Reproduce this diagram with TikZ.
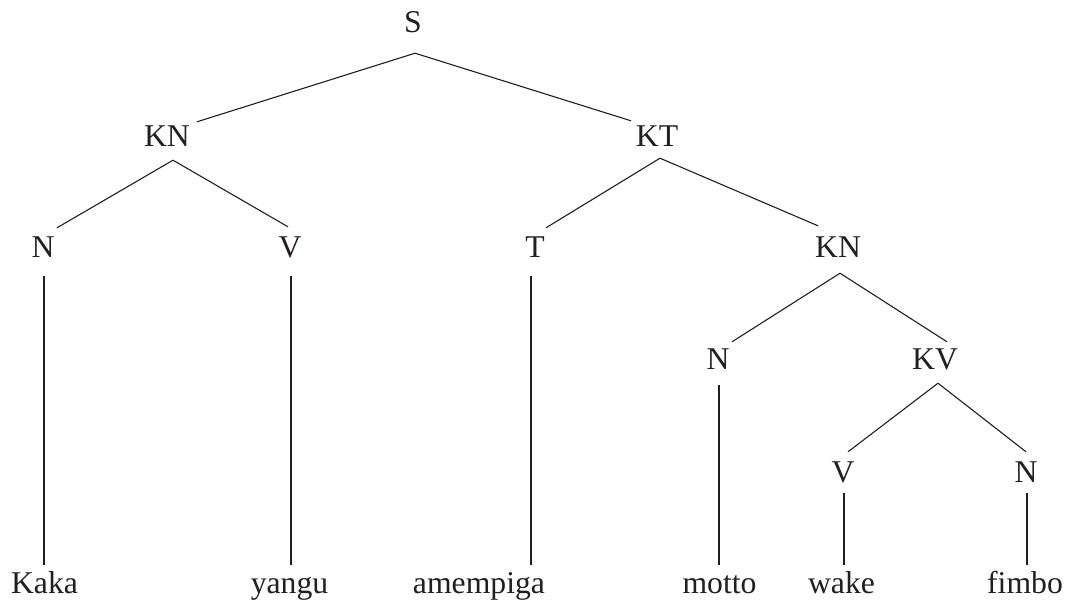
\documentclass[tikz,border=0pt]{standalone}
\usepackage{fontspec}
\setmainfont{Liberation Serif}
\definecolor{ink}{RGB}{35,31,32}
\tikzset{
  lab/.style={anchor=base, inner sep=0pt, text height=22pt, text depth=0pt,
    font=\fontsize{31.7}{38}\selectfont, text=ink},
  edge/.style={draw=ink, line width=1.1pt}
}
\begin{document}
\begin{tikzpicture}[x=1pt,y=-1pt]
\useasboundingbox[fill=white] (0,0) rectangle (1070,602);
% internal nodes
\node[lab] (S)   at (413,33)  {S};
\node[lab] (KN)  at (167,146) {KN};
\node[lab] (KT)  at (657,146) {KT};
\node[lab] (N1)  at (43,257)  {N};
\node[lab] (V1)  at (290,257) {V};
\node[lab] (T)   at (535,257) {T};
\node[lab] (KN2) at (838,257) {KN};
\node[lab] (N3)  at (718,369) {N};
\node[lab] (KV)  at (935,369) {KV};
\node[lab] (V4)  at (843,482) {V};
\node[lab] (N4)  at (1026,482) {N};
% leaves
\node[lab] (kaka)  at (44.5,593) {Kaka};
\node[lab] (yangu) at (289.5,593) {yangu};
\node[lab] (amem)  at (479,593) {amempiga};
\node[lab] (motto) at (719.5,593) {motto};
\node[lab] (wake)  at (841.5,593) {wake};
\node[lab] (fimbo) at (1025,593) {fimbo};
% branches
\draw[edge] ([shift={(2,20)}]S.south) -- ([shift={(30,-2)}]KN.north);
\draw[edge] ([shift={(2,20)}]S.south) -- ([shift={(-26,-3)}]KT.north);
\draw[edge] ([shift={(6,14)}]KN.south) -- ([shift={(14,-7)}]N1.north);
\draw[edge] ([shift={(6,14)}]KN.south) -- ([shift={(-2,-8)}]V1.north);
\draw[edge] ([shift={(3,12)}]KT.south) -- ([shift={(11,-7)}]T.north);
\draw[edge] ([shift={(3,12)}]KT.south) -- ([shift={(-20,-9)}]KN2.north);
\draw[edge] ([shift={(2,16)}]KN2.south) -- ([shift={(14,-5)}]N3.north);
\draw[edge] ([shift={(2,16)}]KN2.south) -- ([shift={(12,-5)}]KV.north);
\draw[edge] ([shift={(3,14)}]KV.south) -- ([shift={(5,-8)}]V4.north);
\draw[edge] ([shift={(3,14)}]KV.south) -- ([shift={(0,-8)}]N4.north);
% terminal lines
\draw[edge] ([shift={(1,19)}]N1.south) -- ([shift={(-0.5,-6)}]kaka.north);
\draw[edge] ([shift={(1,19)}]V1.south) -- ([shift={(1.5,-6)}]yangu.north);
\draw[edge] ([shift={(-4,19)}]T.south) -- ([shift={(52,-6)}]amem.north);
\draw[edge] ([shift={(1,16)}]N3.south) -- ([shift={(-0.5,-6)}]motto.north);
\draw[edge] ([shift={(1,11)}]V4.south) -- ([shift={(2.5,-6)}]wake.north);
\draw[edge] ([shift={(1,11)}]N4.south) -- ([shift={(2,-6)}]fimbo.north);
\end{tikzpicture}
\end{document}
